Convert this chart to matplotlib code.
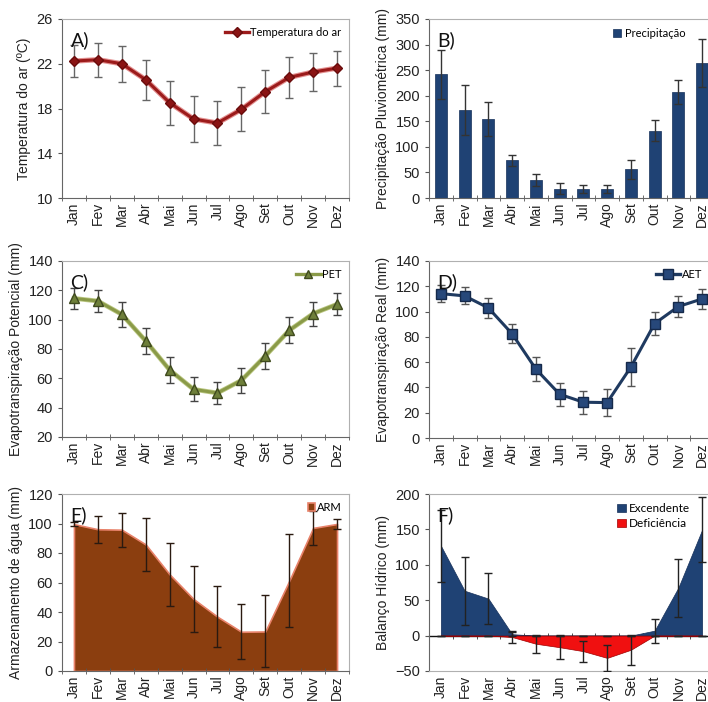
import matplotlib
matplotlib.use("Agg")
import matplotlib.pyplot as plt
import matplotlib.patheffects as pe
from matplotlib.lines import Line2D
from matplotlib.ticker import FixedLocator
import numpy as np

plt.rcParams['font.family'] = ['Liberation Sans', 'DejaVu Sans']
plt.rcParams['font.size'] = 9

months = ['Jan', 'Fev', 'Mar', 'Abr', 'Mai', 'Jun', 'Jul', 'Ago', 'Set', 'Out', 'Nov', 'Dez']

# A) temperatura do ar
temp = [22.24, 22.36, 22.0, 20.57, 18.52, 17.06, 16.70, 17.92, 19.5, 20.78, 21.26, 21.61]
temp_err = [1.45, 1.5, 1.6, 1.8, 1.97, 2.03, 1.98, 1.96, 1.92, 1.8, 1.67, 1.56]

# B) precipitacao
prec = [241.8, 172, 154.5, 73.7, 35.2, 18.3, 17, 17.6, 56, 131.7, 207.3, 263.4]
prec_err = [47.6, 49.6, 32.5, 11, 11, 10.4, 7.8, 8.4, 19, 20.8, 22.8, 47]

# C) PET
pet = [114.5, 112.7, 103.6, 85.5, 65.7, 52.5, 50.0, 58.6, 75.2, 92.7, 104.1, 110.5]
pet_err = [7.3, 7.5, 8.4, 9, 8.6, 8.2, 7.7, 8.4, 8.8, 8.9, 8.2, 7.5]

# D) AET
aet = [114.2, 112.4, 102.9, 82.4, 54.5, 34.6, 28.3, 28.0, 56.1, 90.5, 104.0, 110.0]
aet_err = [6.8, 6.8, 8.1, 7.6, 9.2, 9.2, 9.0, 10.8, 15, 9, 8.1, 8]

# E) ARM
arm = [99.6, 96.1, 95.8, 85.8, 65.5, 48.8, 36.8, 26.6, 26.8, 61.1, 97.0, 99.7]
arm_err = [1.6, 9.1, 11.5, 17.9, 21.4, 22.2, 20.5, 18.7, 24.4, 31.6, 11.8, 3.5]

# F) balanco hidrico
exc = [127, 63.4, 52.3, 2, 0, 0, 0, 0, 0, 7, 67.8, 149.5]
exc_err = [51, 48, 35.7, 3, 0, 0, 0, 0, 0, 17, 41, 46]
defi = [0, 0, 0, -2, -11.5, -16.4, -22, -31.5, -20, 0, 0, 0]
defi_err = [0, 0, 0, 8, 13, 17, 14.6, 18, 21, 0, 0, 0]

W, H = 708, 702
fig = plt.figure(figsize=(W / 100, H / 100), dpi=100)


def px_axes(l, t, r, b):
    return fig.add_axes([l / W, 1 - b / H, (r - l) / W, (b - t) / H])


x = np.arange(12)


def style(ax, ylim, yticks, ylabel, letter, cat_line=True):
    ax.set_xlim(-0.5, 11.5)
    ax.set_ylim(*ylim)
    ax.set_yticks(yticks)
    ax.set_xticks(x)
    ax.set_xticklabels(months, rotation=90)
    ax.xaxis.set_minor_locator(FixedLocator(np.arange(-0.5, 12, 1)))
    ax.tick_params(axis='x', which='major', length=0, pad=3, labelsize=10, colors='#222')
    ax.tick_params(axis='x', which='minor', length=4, direction='inout', color='#555')
    if not cat_line:
        ax.tick_params(axis='x', which='minor', length=0)
    ax.tick_params(axis='y', length=3, direction='out', labelsize=10.5, color='#555', colors='#222')
    for s in ax.spines.values():
        s.set_color('#b0b0b0')
        s.set_linewidth(0.8)
    ax.spines['left'].set_color('#666')
    if cat_line:
        ax.spines['bottom'].set_color('#666')
    ax.set_ylabel(ylabel, fontsize=10, color='#222', labelpad=4)
    ax.text(0.03, 0.93, letter, transform=ax.transAxes, fontsize=14,
            family='Lato', va='top', ha='left', color='#111')


def line_legend(ax, color, marker, ms, mfc, mec, label, anchor):
    h = Line2D([], [], color=color, lw=2.4, marker=marker, ms=ms, mfc=mfc, mec=mec)
    ax.legend([h], [label], loc='upper right', bbox_to_anchor=anchor, frameon=False,
              prop={'family': 'Lato', 'size': 8}, handlelength=2.2, handletextpad=0.1,
              borderaxespad=0.3)


# A
axA = px_axes(62, 19, 349, 198)
axA.errorbar(x, temp, yerr=temp_err, fmt='none', ecolor='#666', elinewidth=1, capsize=3, capthick=1, zorder=2)
axA.plot(x, temp, color='#9c1b1b', lw=2.2, zorder=3,
         path_effects=[pe.Stroke(linewidth=3.8, foreground='#e39090'), pe.Normal()])
axA.plot(x, temp, ls='none', marker='D', ms=5.5, mfc='#8a1414', mec='#6a0c0c', zorder=4)
style(axA, (10, 26), [10, 14, 18, 22, 26], 'Temperatura do ar (ºC)', 'A)')
line_legend(axA, '#9c1b1b', 'D', 5, '#8a1414', '#6a0c0c', 'Temperatura do ar', (1.0, 1.0))

# B
axB = px_axes(429, 19, 714, 198)
axB.bar(x, prec, width=0.5, color='#1f4274', edgecolor='#16305a', lw=0.5, label='Precipitação', zorder=2)
axB.errorbar(x, prec, yerr=prec_err, fmt='none', ecolor='#333', elinewidth=1, capsize=3, capthick=1, zorder=3)
style(axB, (0, 350), np.arange(0, 351, 50), 'Precipitação Pluviométrica (mm)', 'B)')
axB.legend(loc='upper right', bbox_to_anchor=(0.93, 1.0), frameon=False,
           prop={'family': 'Lato', 'size': 8}, handlelength=0.7, handleheight=0.7,
           handletextpad=0.3, borderaxespad=0.4)

# C
axC = px_axes(62, 261, 349, 437)
axC.errorbar(x, pet, yerr=pet_err, fmt='none', ecolor='#444', elinewidth=1, capsize=3, capthick=1, zorder=2)
axC.plot(x, pet, color='#8a9a48', lw=2.2, zorder=3,
         path_effects=[pe.Stroke(linewidth=3.4, foreground='#bcc884'), pe.Normal()])
axC.plot(x, pet, ls='none', marker='^', ms=7, mfc='#6e7f3a', mec='#3f4a1e', zorder=4)
style(axC, (20, 140), np.arange(20, 141, 20), 'Evapotranspiração Potencial (mm)', 'C)')
line_legend(axC, '#8a9a48', '^', 6, '#6e7f3a', '#3f4a1e', 'PET', (1.0, 1.0))

# D
axD = px_axes(429, 261, 714, 438)
axD.errorbar(x, aet, yerr=aet_err, fmt='none', ecolor='#555', elinewidth=1, capsize=3, capthick=1, zorder=2)
axD.plot(x, aet, color='#1f3a60', lw=2.2, marker='s', ms=7.5, mfc='#27487a', mec='#15294a', zorder=3)
style(axD, (0, 140), np.arange(0, 141, 20), 'Evapotranspiração Real (mm)', 'D)')
line_legend(axD, '#1f3a60', 's', 6.5, '#27487a', '#15294a', 'AET', (0.985, 1.0))

# E
axE = px_axes(62, 494, 349, 671)
axE.fill_between(x, arm, color='#8b3e0f', edgecolor='#e8826a', lw=1.2, label='ARM', zorder=1)
axE.errorbar(x, arm, yerr=arm_err, fmt='none', ecolor='#2a1a10', elinewidth=1, capsize=3, capthick=1, zorder=3)
style(axE, (0, 120), np.arange(0, 121, 20), 'Armazenamento de água (mm)', 'E)')
axE.legend(loc='upper right', frameon=False, prop={'family': 'Lato', 'size': 8},
           handlelength=0.7, handleheight=0.7, handletextpad=0.1, borderaxespad=0.3)

# F
axF = px_axes(429, 494, 714, 671)
axF.fill_between(x, exc, color='#1f4274', edgecolor='#16305a', lw=0.5, label='Excendente', zorder=1)
axF.fill_between(x, defi, color='#f01010', edgecolor='#a00000', lw=0.5, label='Deficiência', zorder=1)
axF.errorbar(x, exc, yerr=exc_err, fmt='none', ecolor='#222', elinewidth=1, capsize=3, capthick=1, zorder=3)
axF.errorbar(x, defi, yerr=defi_err, fmt='none', ecolor='#222', elinewidth=1, capsize=3, capthick=1, zorder=3)
style(axF, (-50, 200), np.arange(-50, 201, 50), 'Balanço Hídrico (mm)', 'F)', cat_line=False)
axF.spines['bottom'].set_color('#b0b0b0')
zero_ax = axF.secondary_xaxis(50 / 250)
zero_ax.spines['bottom'].set_color('#111')
zero_ax.spines['bottom'].set_linewidth(1)
zero_ax.set_xticks([])
zero_ax.xaxis.set_minor_locator(FixedLocator(np.arange(-0.5, 12, 1)))
zero_ax.tick_params(axis='x', which='minor', length=4, direction='inout', color='#333')
axF.legend(loc='upper right', bbox_to_anchor=(0.95, 1.0), frameon=False,
           prop={'family': 'Lato', 'size': 8.5}, handlelength=0.7, handleheight=0.7,
           handletextpad=0.3, borderaxespad=0.4, labelspacing=0.3)

fig.savefig('out.png', dpi=100)
